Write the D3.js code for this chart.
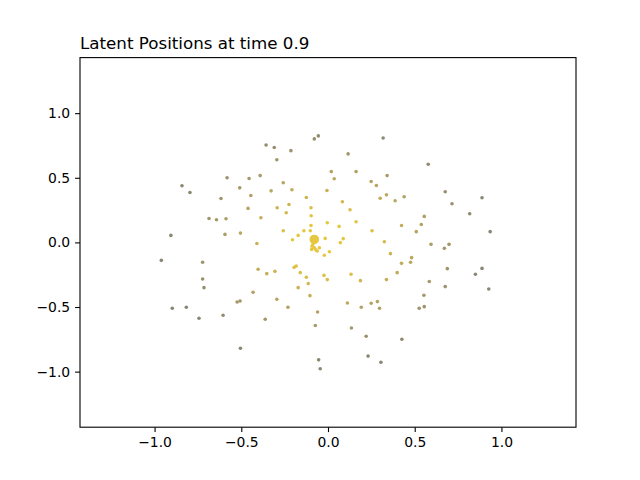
<!DOCTYPE html>
<html>
<head>
<meta charset="utf-8">
<script src="https://cdn.jsdelivr.net/npm/d3@7"></script>
<style>
  body { margin: 0; background: #fff; }
  text { font-family: "DejaVu Sans", sans-serif; }
</style>
</head>
<body>
<svg id="chart" width="640" height="480"></svg>
<script>
// latent positions
const xs = [
  -0.357, -0.842, -0.796, -0.582, -0.455, -0.391, -0.509, -0.445, -0.617, -0.461,
  -0.387, -0.686, -0.643, -0.588, -0.906, -0.594, -0.505, -0.410, -0.310, -0.214,
  -0.295, -0.079, -0.056, 0.318, 0.116, 0.019, 0.036, 0.162, 0.249, 0.279,
  0.341, -0.258, -0.208, -0.328, -0.006, -0.125, 0.301, 0.337, -0.225, 0.083,
  -0.293, -0.098, -0.241, 0.127, -0.097, 0.162, -0.004, -0.098, 0.064, -0.258,
  -0.139, -0.102, 0.254, -0.172, -0.205, -0.016, 0.088, 0.071, 0.325, -0.079,
  0.578, 0.676, 0.888, 0.715, 0.817, 0.935, 0.387, 0.439, 0.555, 0.424,
  0.538, 0.509, 0.594, 0.698, 0.671, -0.961, -0.723, -0.723, -0.715, -0.898,
  -0.817, -0.744, -0.605, -0.524, -0.507, -0.432, -0.403, -0.353, -0.362, -0.505,
  -0.094, -0.062, -0.021, 0.008, -0.306, -0.195, -0.183, -0.160, -0.125, -0.114,
  -0.172, -0.023, -0.004, 0.133, 0.187, 0.337, -0.104, -0.295, -0.231, -0.060,
  0.112, 0.192, 0.249, 0.285, 0.297, -0.073, 0.135, 0.220, 0.231, 0.305,
  -0.054, -0.045, 0.360, 0.482, 0.424, 0.476, 0.399, 0.688, 0.888, 0.850,
  0.584, 0.676, 0.927, 0.553, 0.555, 0.526, 0.426, -0.088, -0.079, -0.050,
  -0.092, -0.070
];
const ys = [
  0.754, 0.438, 0.386, 0.500, 0.494, 0.517, 0.422, 0.363, 0.340, 0.263,
  0.191, 0.185, 0.175, 0.183, 0.054, 0.062, 0.072, -0.008, 0.734, 0.710,
  0.639, 0.801, 0.824, 0.808, 0.685, 0.548, 0.492, 0.548, 0.471, 0.440,
  0.517, 0.461, 0.407, 0.399, 0.402, 0.347, 0.342, 0.368, 0.293, 0.314,
  0.268, 0.268, 0.229, 0.253, 0.206, 0.160, 0.152, 0.131, 0.124, 0.090,
  0.090, 0.090, 0.090, 0.054, 0.021, 0.031, 0.029, -0.002, 0.005, 0.023,
  0.605, 0.392, 0.345, 0.299, 0.222, 0.083, 0.322, 0.353, 0.201, 0.131,
  0.139, 0.083, -0.015, -0.015, -0.046, -0.139, -0.154, -0.283, -0.350, -0.510,
  -0.502, -0.587, -0.564, -0.461, -0.453, -0.386, -0.208, -0.242, -0.595, -0.819,
  -0.054, -0.067, -0.100, -0.072, -0.224, -0.193, -0.183, -0.234, -0.270, -0.319,
  -0.350, -0.255, -0.288, -0.247, -0.296, -0.288, -0.412, -0.440, -0.502, -0.538,
  -0.469, -0.502, -0.471, -0.458, -0.510, -0.643, -0.662, -0.726, -0.880, -0.927,
  -0.909, -0.978, -0.087, -0.118, -0.162, -0.154, -0.234, -0.203, -0.201, -0.247,
  -0.303, -0.342, -0.361, -0.409, -0.497, -0.510, -0.749, -0.018, -0.041, -0.041,
  -0.030, -0.058
];
// node that sits at the centre is drawn larger
const bigNodes = [59];

const xTicks = [-1.0, -0.5, 0.0, 0.5, 1.0];
const yTicks = [-1.0, -0.5, 0.0, 0.5, 1.0];
const title = "Latent Positions at time 0.9";

const axLeft = 80, axRight = 576, axTop = 57.6, axBottom = 427.2;

const svg = d3.select("#chart");

const x = d3.scaleLinear().domain([-1.43, 1.43]).range([axLeft, axRight]);
const y = d3.scaleLinear().domain([-1.43, 1.43]).range([axBottom, axTop]);

const color = d3.scaleLinear()
  .domain([0.2, 0.55, 0.9])
  .range(["#e6c840", "#b3a264", "#8a8672"])
  .clamp(true);

const pts = xs.map((v, i) => ({ x: v, y: ys[i], big: bigNodes.includes(i) }));

svg.append("g")
  .selectAll("circle")
  .data(pts)
  .enter()
  .append("circle")
  .attr("cx", d => x(d.x))
  .attr("cy", d => y(d.y))
  .attr("r", d => d.big ? 4.8 : 1.8)
  .attr("fill", d => color(Math.hypot(d.x, d.y)));

const fmt = d => d3.format(".1f")(d).replace("-", "\u2212");

const xAxis = d3.axisBottom(x).tickValues(xTicks).tickFormat(fmt)
  .tickSizeInner(4.9).tickSizeOuter(0).tickPadding(4.9);
const gx = svg.append("g")
  .attr("transform", `translate(0,${axBottom})`)
  .call(xAxis);

const yAxis = d3.axisLeft(y).tickValues(yTicks).tickFormat(fmt)
  .tickSizeInner(4.9).tickSizeOuter(0).tickPadding(4.9);
const gy = svg.append("g")
  .attr("transform", `translate(${axLeft},0)`)
  .call(yAxis);

[gx, gy].forEach(g => {
  g.select(".domain").remove();
  g.selectAll("line").attr("stroke", "#000").attr("stroke-width", 1.1);
  g.selectAll("text")
    .attr("fill", "#000")
    .style("font-family", "'DejaVu Sans', sans-serif")
    .style("font-size", "13.9px");
});

svg.append("rect")
  .attr("x", axLeft).attr("y", axTop)
  .attr("width", axRight - axLeft).attr("height", axBottom - axTop)
  .attr("fill", "none")
  .attr("stroke", "#000")
  .attr("stroke-width", 1.1);

svg.append("text")
  .attr("x", axLeft)
  .attr("y", 49.3)
  .attr("fill", "#000")
  .style("font-size", "16.7px")
  .text(title);
</script>
</body>
</html>
